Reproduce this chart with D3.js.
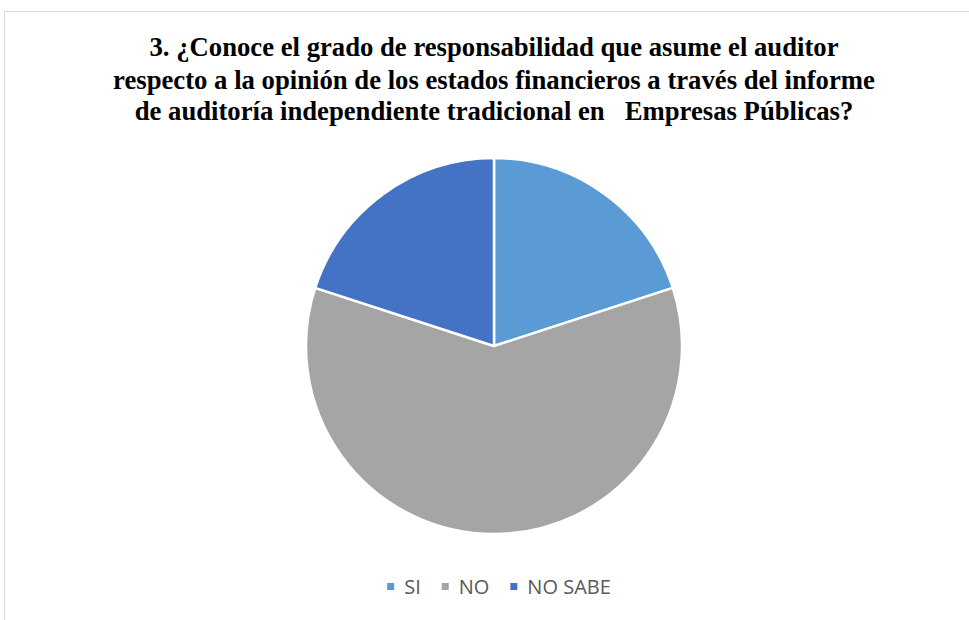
<!DOCTYPE html>
<html>
<head>
<meta charset="utf-8">
<script src="https://cdn.jsdelivr.net/npm/d3@7"></script>
<style>
  html, body { margin: 0; padding: 0; background: #fff; }
  svg { display: block; }
  .title { font-family: "Liberation Serif", "Times New Roman", Times, serif; font-weight: 700; }
</style>
</head>
<body>
<svg id="chart" width="969" height="620"></svg>
<script>
const categories = ["SI", "NO", "NO SABE"];
const values = [20, 60, 20];
const colors = ["#5B9BD5", "#A5A5A5", "#4472C4"];
const titleLines = [
  "3. ¿Conoce el grado de responsabilidad que asume el auditor",
  "respecto a la opinión de los estados financieros a través del informe",
  "de auditoría independiente tradicional en   Empresas Públicas?"
];

const svg = d3.select("#chart");

// chart frame
svg.append("rect")
  .attr("x", 4.5).attr("y", 11.5)
  .attr("width", 980).attr("height", 640)
  .attr("fill", "#fff")
  .attr("stroke", "#d9d9d9")
  .attr("stroke-width", 1);

// title
const title = svg.append("text")
  .attr("class", "title")
  .attr("text-anchor", "middle")
  .attr("font-size", 26.7)
  .attr("fill", "#000")
  .style("white-space", "pre");
const titleY = [56, 88.5, 120];
titleLines.forEach((t, i) => {
  title.append("tspan")
    .attr("x", 494)
    .attr("y", titleY[i])
    .text(t);
});

// pie
const cx = 494, cy = 346, r = 188;
const pie = d3.pie().sort(null).value(d => d);
const arc = d3.arc().innerRadius(0).outerRadius(r);
const color = d3.scaleOrdinal().domain(categories).range(colors);

svg.append("g")
  .attr("transform", `translate(${cx},${cy})`)
  .selectAll("path")
  .data(pie(values))
  .join("path")
  .attr("d", arc)
  .attr("fill", (d, i) => color(categories[i]))
  .attr("stroke", "#fff")
  .attr("stroke-width", 2.5)
  .attr("stroke-linejoin", "round");

// legend
const legend = svg.append("g");
const fontSize = 20;
const items = legend.selectAll("g.item")
  .data(categories)
  .join("g")
  .attr("class", "item");
items.append("rect")
  .attr("width", 7).attr("height", 7)
  .attr("y", -11)
  .attr("fill", d => color(d));
items.append("text")
  .attr("x", 17)
  .attr("y", 0)
  .attr("font-family", "'Open Sans', sans-serif")
  .attr("font-size", fontSize)
  .attr("fill", "#595959")
  .text(d => d);

let xPos = 0;
const gap = 21;
items.each(function() {
  const g = d3.select(this);
  g.attr("transform", `translate(${xPos},0)`);
  const w = g.select("text").node().getComputedTextLength();
  xPos += 17 + w + gap;
});
const total = xPos - gap;
legend.attr("transform", `translate(${499 - total / 2},594)`);
</script>
</body>
</html>
